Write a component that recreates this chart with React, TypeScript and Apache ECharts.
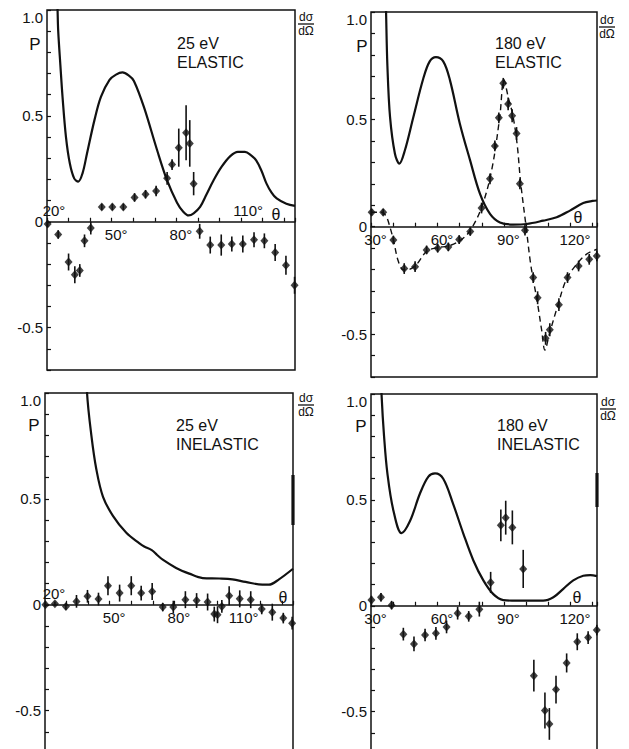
import React, { useEffect, useRef } from "react";
import * as echarts from "echarts";

const FONT = '"Liberation Sans", Arial, Helvetica, sans-serif';
const INK = "#111";

// shared y range and tick labels
const yMin = -0.7;
const yMax = 1.0;
const yTickValues = [1.0, 0.5, 0, -0.5];
const yTickTexts = ["1.0", "0.5", "0", "-0.5"];

// ---------- Panel A: 25 eV ELASTIC ----------
const aTheta = [20.3, 25.2, 30, 32.9, 35.2, 37.4, 40.3, 45.4, 50.3, 55.4, 60.6, 65.7, 70.6, 75.7, 78, 81.1, 84.5, 86.2, 88, 90.8, 95.7, 100.8, 105.7, 110.8, 116, 120.8, 125.8, 130.8, 134.8];
const aP = [-0.01, -0.06, -0.19, -0.25, -0.23, -0.09, -0.03, 0.07, 0.07, 0.07, 0.115, 0.13, 0.145, 0.205, 0.27, 0.35, 0.42, 0.37, 0.18, -0.045, -0.11, -0.11, -0.105, -0.105, -0.085, -0.09, -0.145, -0.205, -0.3];
const aErr = [0.015, 0.02, 0.04, 0.04, 0.03, 0.03, 0.03, 0.015, 0.015, 0.015, 0.02, 0.02, 0.025, 0.03, 0.025, 0.09, 0.13, 0.11, 0.055, 0.035, 0.04, 0.05, 0.035, 0.04, 0.035, 0.035, 0.04, 0.045, 0.04];
const aCurveTheta = [24.6, 24.9, 25.2, 26.2, 27.2, 28.8, 30.6, 32.6, 34.5, 36.5, 38.5, 42, 45, 49, 52, 55, 58, 60.3, 65, 71, 75.7, 80.3, 83, 85.7, 88, 91, 94, 97.2, 101, 105, 108.5, 111.8, 114.5, 117, 119.5, 121.8, 124, 126.5, 131, 135];
const aCurveVal = [1.1, 1.0, 0.9, 0.74, 0.59, 0.4, 0.275, 0.205, 0.19, 0.23, 0.32, 0.48, 0.59, 0.67, 0.695, 0.705, 0.69, 0.665, 0.54, 0.34, 0.195, 0.09, 0.05, 0.03, 0.04, 0.07, 0.13, 0.195, 0.26, 0.31, 0.33, 0.33, 0.315, 0.29, 0.24, 0.18, 0.14, 0.11, 0.085, 0.075];
const aBelow = [50, 80];
const aAbove = [20, 110];

// ---------- Panel B: 180 eV ELASTIC ----------
const bTheta = [30.3, 35.5, 40.1, 45, 49.9, 55.1, 60.1, 64.9, 69.8, 74.8, 79.9, 83.7, 85.9, 87.7, 89.7, 91.9, 93.7, 95.7, 97.2, 99.5, 103.2, 105.2, 108.8, 110.7, 114.8, 118.7, 123.7, 128.5, 131.9];
const bP = [0.067, 0.067, -0.062, -0.195, -0.186, -0.108, -0.1, -0.094, -0.06, -0.022, 0.087, 0.223, 0.376, 0.507, 0.668, 0.572, 0.517, 0.434, 0.2, -0.016, -0.237, -0.331, -0.52, -0.48, -0.363, -0.237, -0.183, -0.152, -0.136];
const bErr = [0.015, 0.015, 0.02, 0.025, 0.025, 0.02, 0.02, 0.02, 0.02, 0.02, 0.025, 0.025, 0.025, 0.025, 0.025, 0.03, 0.03, 0.03, 0.025, 0.025, 0.025, 0.03, 0.03, 0.03, 0.03, 0.025, 0.025, 0.025, 0.025];
const bCurveTheta = [36.6, 36.8, 37.4, 38.6, 40.8, 42.8, 45.3, 49.1, 53.6, 56.5, 59.3, 62.6, 65.6, 70.1, 74.7, 79.2, 83.7, 88.2, 94.2, 100.2, 107.7, 113.8, 119.8, 125.8, 130, 132];
const bCurveVal = [1.1, 1.0, 0.75, 0.51, 0.34, 0.294, 0.356, 0.51, 0.69, 0.77, 0.79, 0.77, 0.684, 0.48, 0.31, 0.153, 0.06, 0.02, 0.01, 0.0125, 0.028, 0.044, 0.075, 0.11, 0.12, 0.122];
const bDashTheta = [30, 35, 37, 38.5, 40.1, 42.3, 44.6, 46.5, 50.6, 55.1, 60.1, 64.9, 70, 74.6, 79.9, 84.4, 88.1, 90, 92, 94, 96, 97.5, 100, 102, 103.5, 105.2, 107, 108.5, 110.5, 114.5, 118.2, 122.8, 127.3, 132];
const bDashVal = [0.067, 0.067, 0.045, 0.0, -0.06, -0.16, -0.2, -0.2, -0.175, -0.115, -0.097, -0.09, -0.066, -0.02, 0.09, 0.26, 0.51, 0.685, 0.6, 0.52, 0.38, 0.21, 0.0, -0.17, -0.26, -0.36, -0.48, -0.575, -0.5, -0.36, -0.245, -0.175, -0.128, -0.105];
const bBelow = [30, 60, 90, 120];
const bAbove: number[] = [];

// ---------- Panel C: 25 eV INELASTIC ----------
const cTheta = [20.2, 24.6, 29.7, 34.6, 39.7, 44.8, 49.2, 54.6, 60, 64.6, 69.7, 74.6, 79.5, 85.1, 90.3, 95.4, 98.5, 100, 102, 105.4, 110.3, 115.4, 120.5, 125.4, 130.5, 134.6];
const cP = [0.0, 0.005, -0.008, 0.016, 0.04, 0.027, 0.09, 0.055, 0.09, 0.055, 0.063, -0.011, -0.011, 0.024, 0.02, 0.013, -0.044, -0.047, -0.008, 0.043, 0.028, 0.024, -0.02, -0.035, -0.063, -0.087];
const cErr = [0.01, 0.01, 0.015, 0.03, 0.03, 0.03, 0.045, 0.04, 0.045, 0.035, 0.04, 0.02, 0.03, 0.04, 0.035, 0.04, 0.035, 0.04, 0.03, 0.045, 0.04, 0.04, 0.025, 0.04, 0.025, 0.03];
const cCurveTheta = [39.3, 39.5, 41.5, 43.8, 46.9, 51.5, 57.7, 63.8, 66, 69.5, 72, 74.6, 80.8, 86.9, 93.1, 100.8, 106.9, 113, 120.8, 123.8, 128.5, 135];
const cCurveVal = [1.1, 1.0, 0.8, 0.64, 0.51, 0.42, 0.34, 0.29, 0.275, 0.258, 0.235, 0.213, 0.174, 0.147, 0.126, 0.124, 0.12, 0.108, 0.095, 0.095, 0.12, 0.17];
const cBelow = [50, 80, 110];
const cAbove = [20];

// ---------- Panel D: 180 eV INELASTIC ----------
const dTheta = [30.2, 34.5, 39.3, 44.6, 49.4, 54.4, 59.3, 64.1, 69.1, 74.1, 78.9, 84, 88.6, 90.8, 93.8, 98.7, 103.5, 108.5, 110.5, 113.5, 118.3, 123.1, 128, 131.9];
const dP = [0.027, 0.04, 0.003, -0.134, -0.18, -0.138, -0.13, -0.1, -0.035, -0.05, -0.016, 0.11, 0.38, 0.416, 0.37, 0.174, -0.33, -0.495, -0.558, -0.396, -0.27, -0.17, -0.15, -0.115];
const dErr = [0.02, 0.02, 0.02, 0.03, 0.035, 0.03, 0.03, 0.03, 0.03, 0.025, 0.035, 0.05, 0.075, 0.08, 0.08, 0.09, 0.075, 0.085, 0.075, 0.065, 0.045, 0.04, 0.03, 0.025];
const dCurveTheta = [34.6, 34.8, 35.9, 37.4, 40.1, 43.8, 47.6, 52.1, 55.9, 58.9, 62.6, 67.1, 71.7, 76.2, 80.7, 85.2, 89.7, 95.7, 101.7, 107.7, 112.3, 116.8, 121.3, 125.8, 129, 132];
const dCurveVal = [1.1, 0.99, 0.8, 0.625, 0.45, 0.343, 0.4, 0.53, 0.61, 0.625, 0.6, 0.48, 0.34, 0.214, 0.12, 0.055, 0.027, 0.024, 0.024, 0.024, 0.04, 0.08, 0.12, 0.142, 0.145, 0.14];
const dBelow = [30, 60, 90, 120];
const dAbove: number[] = [];

const zip = (a: number[], b: number[]) => a.map((v, i) => [v, b[i]]);
const near = (list: number[], v: number) => list.some((t) => Math.abs(t - v) < 1e-6);

type Panel = {
  grid: { left: number; top: number; width: number; height: number };
  xMin: number;
  xMax: number;
  below: number[];
  above: number[];
  aboveOffset: number;
  theta: number[];
  p: number[];
  err: number[];
  cT: number[];
  cV: number[];
  dashT?: number[];
  dashV?: number[];
};

const panels: Panel[] = [
  { grid: { left: 47, top: 10, width: 248, height: 360 }, xMin: 20, xMax: 135, below: aBelow, above: aAbove, aboveOffset: 7, theta: aTheta, p: aP, err: aErr, cT: aCurveTheta, cV: aCurveVal },
  { grid: { left: 371, top: 12, width: 226, height: 365 }, xMin: 30, xMax: 132, below: bBelow, above: bAbove, aboveOffset: 7, theta: bTheta, p: bP, err: bErr, cT: bCurveTheta, cV: bCurveVal, dashT: bDashTheta, dashV: bDashVal },
  { grid: { left: 45, top: 393, width: 248, height: 360 }, xMin: 20, xMax: 135, below: cBelow, above: cAbove, aboveOffset: 9, theta: cTheta, p: cP, err: cErr, cT: cCurveTheta, cV: cCurveVal },
  { grid: { left: 371, top: 394, width: 226, height: 360 }, xMin: 30, xMax: 132, below: dBelow, above: dAbove, aboveOffset: 7, theta: dTheta, p: dP, err: dErr, cT: dCurveTheta, cV: dCurveVal },
];

const titles = [
  { energy: "25 eV", kind: "ELASTIC", x: 177, y: 43 },
  { energy: "180 eV", kind: "ELASTIC", x: 495, y: 43 },
  { energy: "25 eV", kind: "INELASTIC", x: 176, y: 425 },
  { energy: "180 eV", kind: "INELASTIC", x: 497, y: 425 },
];
const pLabels = [[35, 44], [362, 46], [34, 425], [361, 426]];
const thetaLabels = [[276, 214], [578, 217], [283, 597], [577, 597]];
const fracs = [[306, 17], [607, 20], [306, 398], [608, 402]];
const thickBars = [[293, 475, 525], [597, 473, 507]];

function textEl(text: string, x: number, y: number, size: number, align = "center") {
  return {
    type: "text",
    x,
    y,
    silent: true,
    style: { text, fill: INK, font: `${size}px ${FONT}`, textAlign: align, textVerticalAlign: "middle" },
  };
}

export default function App() {
  const ref = useRef<HTMLDivElement>(null);
  useEffect(() => {
    if (!ref.current) return;
    const chart = echarts.init(ref.current, undefined, { renderer: "svg" });

    const yFmt = (v: number) => {
      const k = yTickValues.findIndex((t) => Math.abs(t - v) < 1e-6);
      if (k < 0) return "";
      return k === 0 ? `{s| }\n{n|${yTickTexts[k]}}` : `{n|${yTickTexts[k]}}`;
    };

    const series: any[] = [];
    panels.forEach((pn, i) => {
      series.push({
        type: "line",
        xAxisIndex: i,
        yAxisIndex: i,
        data: zip(pn.cT, pn.cV),
        smooth: 0.35,
        symbol: "none",
        clip: true,
        lineStyle: { color: INK, width: 2.2 },
        z: 2,
      });
      if (pn.dashT && pn.dashV) {
        series.push({
          type: "line",
          xAxisIndex: i,
          yAxisIndex: i,
          data: zip(pn.dashT, pn.dashV),
          smooth: 0.35,
          symbol: "none",
          clip: true,
          lineStyle: { color: INK, width: 1.4, type: [6, 4] },
          z: 2,
        });
      }
      series.push({
        type: "custom",
        xAxisIndex: i,
        yAxisIndex: i,
        data: pn.theta.map((t, k) => [t, pn.p[k] - pn.err[k], pn.p[k] + pn.err[k]]),
        encode: { x: 0, y: [1, 2] },
        silent: true,
        z: 3,
        renderItem: (_params: any, api: any) => {
          const a = api.coord([api.value(0), api.value(1)]);
          const b = api.coord([api.value(0), api.value(2)]);
          return {
            type: "line",
            shape: { x1: a[0], y1: a[1], x2: b[0], y2: b[1] },
            style: { stroke: INK, lineWidth: 1.6 },
          };
        },
      });
      series.push({
        type: "scatter",
        xAxisIndex: i,
        yAxisIndex: i,
        data: zip(pn.theta, pn.p),
        symbol: "diamond",
        symbolSize: [8, 9],
        itemStyle: { color: INK },
        clip: false,
        z: 4,
      });
    });

    const graphic: any[] = [];
    titles.forEach((t) => {
      graphic.push(textEl(t.energy, t.x, t.y, 16, "left"));
      graphic.push(textEl(t.kind, t.x, t.y + 19, 16, "left"));
    });
    pLabels.forEach(([x, y]) => graphic.push(textEl("P", x, y, 17)));
    thetaLabels.forEach(([x, y]) => graphic.push(textEl("θ", x, y, 16)));
    fracs.forEach(([x, y]) => {
      graphic.push(textEl("dσ", x, y, 12));
      graphic.push({
        type: "line",
        silent: true,
        shape: { x1: x - 8, y1: y + 7, x2: x + 8, y2: y + 7 },
        style: { stroke: INK, lineWidth: 1.3 },
      });
      graphic.push(textEl("dΩ", x, y + 14, 12));
    });
    thickBars.forEach(([x, y1, y2]) =>
      graphic.push({
        type: "line",
        silent: true,
        shape: { x1: x, y1, x2: x, y2 },
        style: { stroke: INK, lineWidth: 3.2 },
      })
    );

    chart.setOption({
      animation: false,
      backgroundColor: "#fff",
      textStyle: { fontFamily: FONT },
      grid: panels.map((pn) => ({
        ...pn.grid,
        show: true,
        borderColor: INK,
        borderWidth: 1.5,
        backgroundColor: "transparent",
        containLabel: false,
        outerBoundsMode: "none",
      })),
      xAxis: panels.map((pn, i) => ({
        gridIndex: i,
        type: "value",
        position: "bottom",
        // place the angle axis on the P = 0 line
        offset: -(pn.grid.height * (0 - yMin)) / (yMax - yMin),
        min: pn.xMin,
        max: pn.xMax,
        interval: 10,
        axisLine: { onZero: false, lineStyle: { color: INK, width: 1.5 } },
        axisTick: { inside: true, length: 4, lineStyle: { color: INK, width: 1.2 } },
        axisLabel: {
          formatter: (v: number) => (near(pn.below, v) ? `${Math.round(v)}°` : ""),
          color: INK,
          fontFamily: FONT,
          fontSize: 15,
          margin: 5,
          padding: [0, 0, 0, 9],
        },
        splitLine: { show: false },
      })),
      yAxis: panels.map((_pn, i) => ({
        gridIndex: i,
        type: "value",
        min: yMin,
        max: yMax,
        interval: 0.1,
        axisLine: { show: false, onZero: false },
        axisTick: { show: true, inside: true, length: 4, lineStyle: { color: INK, width: 1.2 } },
        axisLabel: {
          formatter: yFmt,
          margin: 4,
          rich: {
            n: { fontSize: 15, fontFamily: FONT, color: INK },
            s: { fontSize: 8, lineHeight: 14 },
          },
        },
        splitLine: { show: false },
      })),
      series,
    });

    // angle labels that sit above the P = 0 line, positioned through the axis scale
    panels.forEach((pn, i) => {
      pn.above.forEach((t) => {
        const pt = chart.convertToPixel({ gridIndex: i }, [t, 0]) as number[];
        graphic.push(textEl(`${t}°`, pt[0] + pn.aboveOffset, pt[1] - 11, 15));
      });
    });
    chart.setOption({ graphic });

    return () => chart.dispose();
  }, []);

  return (
    <div
      ref={ref}
      style={{ position: "fixed", left: 0, top: 0, width: 629, height: 749, background: "#fff" }}
    />
  );
}
